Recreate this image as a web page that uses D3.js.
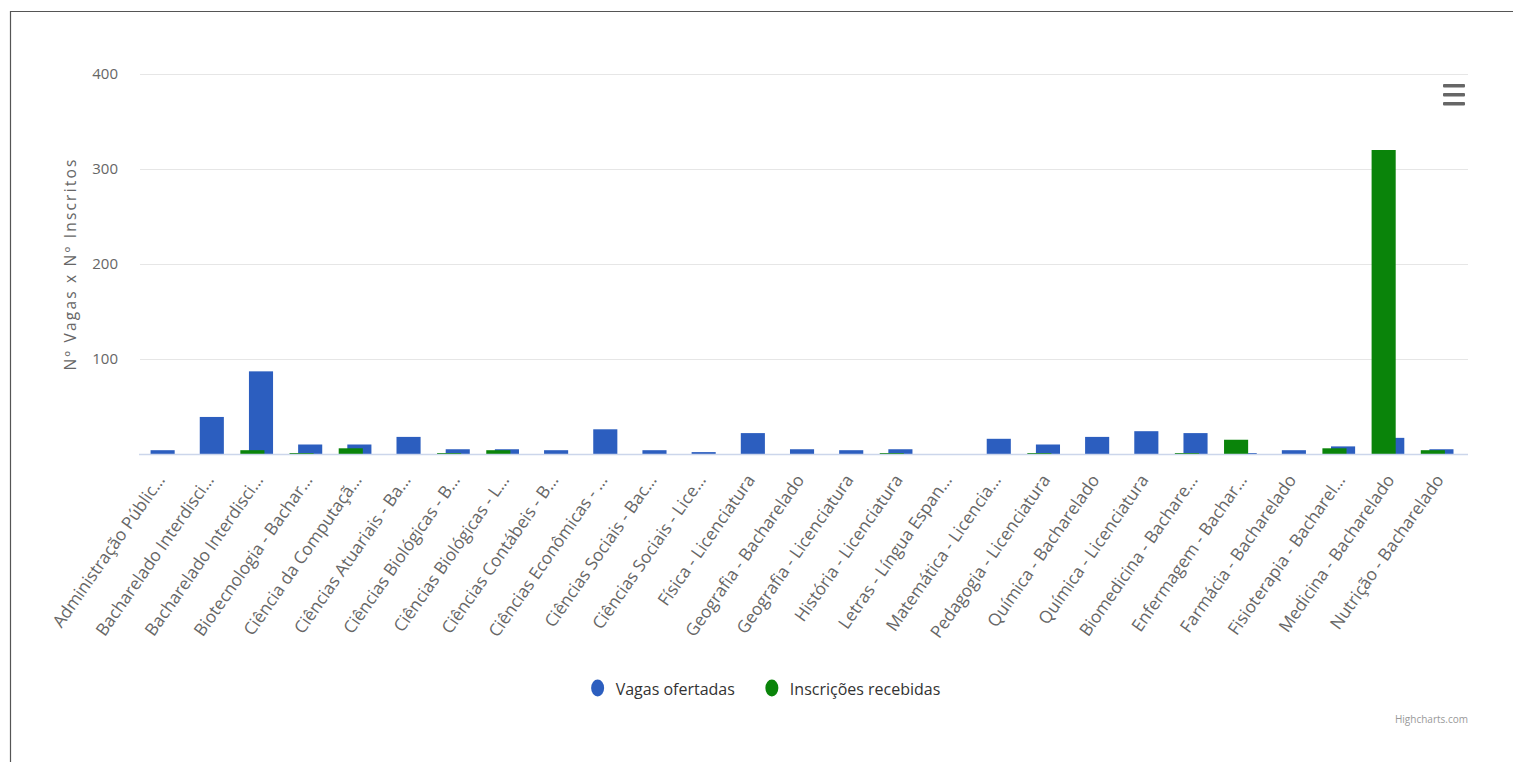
<!DOCTYPE html>
<html>
<head>
<meta charset="utf-8">
<script src="https://cdn.jsdelivr.net/npm/d3@7/dist/d3.min.js"></script>
<style>
  html, body { margin: 0; padding: 0; background: #fff; }
  svg { display: block; font-family: "Open Sans", "DejaVu Sans", sans-serif; }
</style>
</head>
<body>
<svg id="chart" width="1513" height="762"></svg>
<script>
const categories = [
  "Administração Públic…",
  "Bacharelado Interdisci…",
  "Bacharelado Interdisci…",
  "Biotecnologia - Bachar…",
  "Ciência da Computaçã…",
  "Ciências Atuariais - Ba…",
  "Ciências Biológicas - B…",
  "Ciências Biológicas - L…",
  "Ciências Contábeis - B…",
  "Ciências Econômicas - …",
  "Ciências Sociais - Bac…",
  "Ciências Sociais - Lice…",
  "Física - Licenciatura",
  "Geografia - Bacharelado",
  "Geografia - Licenciatura",
  "História - Licenciatura",
  "Letras - Língua Espan…",
  "Matemática - Licencia…",
  "Pedagogia - Licenciatura",
  "Química - Bacharelado",
  "Química - Licenciatura",
  "Biomedicina - Bachare…",
  "Enfermagem - Bachar…",
  "Farmácia - Bacharelado",
  "Fisioterapia - Bacharel…",
  "Medicina - Bacharelado",
  "Nutrição - Bacharelado"
];
const vagasOfertadas = [4, 39, 87, 10, 10, 18, 5, 5, 4, 26, 4, 2, 22, 5, 4, 5, 0, 16, 10, 18, 24, 22, 1, 4, 8, 17, 5];
const inscricoesRecebidas = [0, 0, 4, 1, 6, 0, 1, 4, 0, 0, 0, 0, 0, 0, 0, 1, 0, 0, 1, 0, 0, 1, 15, 0, 6, 320, 4];
const yTicks = [100, 200, 300, 400];
const seriesNames = ["Vagas ofertadas", "Inscrições recebidas"];
const seriesColors = ["#2c5ebf", "#0a840a"];
const yTitle = "Nº Vagas x Nº Inscritos";

const svg = d3.select("#chart");

// frame
svg.append("line").attr("x1", 10.5).attr("y1", 11).attr("x2", 10.5).attr("y2", 762)
  .attr("stroke", "#555").attr("stroke-width", 1.2);
svg.append("line").attr("x1", 10).attr("y1", 11.5).attr("x2", 1513).attr("y2", 11.5)
  .attr("stroke", "#555").attr("stroke-width", 1.2);

const x = d3.scaleBand().domain(d3.range(categories.length)).range([140, 1468]).padding(0);
const y = d3.scaleLinear().domain([0, 400]).range([454, 74]);
const bw = x.bandwidth();
const barW = bw * 0.49;

// grid
svg.append("g").selectAll("line").data(yTicks).join("line")
  .attr("x1", 140).attr("x2", 1468)
  .attr("y1", d => Math.round(y(d)) + 0.5).attr("y2", d => Math.round(y(d)) + 0.5)
  .attr("stroke", "#e6e6e6").attr("stroke-width", 1);

// y labels
svg.append("g").selectAll("text").data(yTicks).join("text")
  .attr("x", 118).attr("y", d => y(d) + 5)
  .attr("text-anchor", "end")
  .attr("font-size", 15).attr("fill", "#666")
  .text(d => d);

// y title
svg.append("text")
  .attr("transform", "translate(76,264) rotate(-90)")
  .attr("text-anchor", "middle")
  .attr("font-size", 15.5).attr("fill", "#666")
  .attr("letter-spacing", 2.2)
  .text(yTitle);

// bars
const center = i => x(i) + bw / 2;
const offsets = [-0.04 * bw, -0.215 * bw];
[vagasOfertadas, inscricoesRecebidas].forEach((vals, s) => {
  svg.append("g").selectAll("rect").data(vals).join("rect")
    .attr("x", (d, i) => center(i) + offsets[s] - barW / 2)
    .attr("width", barW)
    .attr("y", d => y(d))
    .attr("height", d => y(0) - y(d))
    .attr("fill", seriesColors[s]);
});

// x axis line
svg.append("line").attr("x1", 139).attr("x2", 1468).attr("y1", 454.5).attr("y2", 454.5)
  .attr("stroke", "#ccd6eb").attr("stroke-width", 1.5);

// x labels
svg.append("g").selectAll("text").data(categories).join("text")
  .attr("transform", (d, i) => `translate(${center(i) + 1},480) rotate(-55)`)
  .attr("text-anchor", "end")
  .attr("font-size", 17.2).attr("fill", "#666")
  .text(d => d);

// legend
const legend = svg.append("g");
const items = [];
seriesNames.forEach((name, i) => {
  const g = legend.append("g");
  g.append("ellipse").attr("cx", 0).attr("cy", 0).attr("rx", 6.5).attr("ry", 8.5).attr("fill", seriesColors[i]);
  const t = g.append("text").attr("x", 18).attr("y", 7).attr("font-size", 16).attr("fill", "#333").text(name);
  const w = t.node().getComputedTextLength();
  items.push({ g, w });
});
let total = 0;
items.forEach((it, i) => { total += 18 + it.w + (i < items.length - 1 ? 37 : 0); });
let lx = 762 - total / 2 + 7;
items.forEach(it => {
  it.g.attr("transform", `translate(${lx},688)`);
  lx += 18 + it.w + 37;
});

// menu icon
svg.append("g").selectAll("rect").data([0, 1, 2]).join("rect")
  .attr("x", 1443).attr("y", d => 84 + d * 9).attr("width", 22).attr("height", 3.5)
  .attr("rx", 1).attr("fill", "#666");

// credits
svg.append("text").attr("x", 1468).attr("y", 723).attr("text-anchor", "end")
  .attr("font-size", 10).attr("fill", "#999").text("Highcharts.com");
</script>
</body>
</html>
